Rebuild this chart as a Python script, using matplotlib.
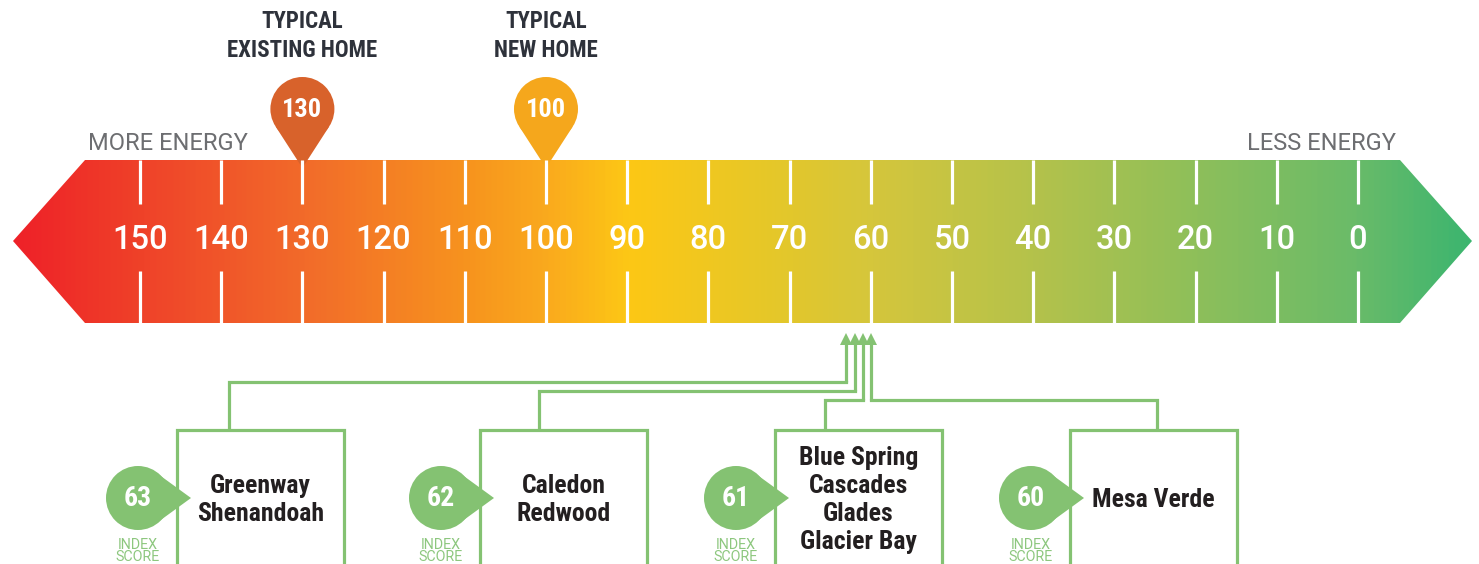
import numpy as np
import matplotlib
matplotlib.use("Agg")
import matplotlib.pyplot as plt
from matplotlib.patches import Polygon, Circle, Rectangle
from matplotlib.colors import LinearSegmentedColormap
from matplotlib import font_manager

# ---------------- data ----------------
scale_values = [150, 140, 130, 120, 110, 100, 90, 80, 70, 60, 50, 40, 30, 20, 10, 0]
pin_values = [130, 100]
pin_titles = ["TYPICAL\nEXISTING HOME", "TYPICAL\nNEW HOME"]
home_scores = [63, 62, 61, 60]
home_names = ["Greenway\nShenandoah", "Caledon\nRedwood",
              "Blue Spring\nCascades\nGlades\nGlacier Bay", "Mesa Verde"]
end_labels = ["MORE ENERGY", "LESS ENERGY"]
score_caption = "INDEX\nSCORE"

# ---------------- fonts ----------------
avail = {f.name for f in font_manager.fontManager.ttflist}
def pick(*names):
    for n in names:
        if n in avail:
            return n
    return "DejaVu Sans"
COND = pick("Liberation Sans Narrow", "Roboto Condensed", "Open Sans Condensed", "DejaVu Sans")
NUMF = pick("Roboto", "DejaVu Sans")
LIGHT = pick("Roboto", "Lato", "DejaVu Sans")

# ---------------- styles ----------------
W, H = 1479, 564
GREEN = "#84C272"
pin_colors = ["#D8622B", "#F5A71C"]
TITLE_C = "#2E323B"

fig = plt.figure(figsize=(W / 100, H / 100), dpi=100)
lay = fig.add_axes([0, 0, 1, 1])
lay.set_xlim(0, W)
lay.set_ylim(H, 0)
lay.axis("off")

# data axes: HERS value on x (reversed), pixels on y
ax = fig.add_axes([0, 0, 1, 1])
ax.set_xlim(167.24, -14.9)
ax.set_ylim(H, 0)
ax.axis("off")
ax.patch.set_alpha(0)

def to_px(v):
    p = ax.transData.transform((v, 0))
    return lay.transData.inverted().transform(p)[0]

# ---------------- band ----------------
band = [(13, 241), (85, 160), (1400, 160), (1472, 241), (1400, 323), (85, 323)]
poly = Polygon(band, closed=True, facecolor="none", edgecolor="none")
lay.add_patch(poly)
stops = [(0.0, "#EE2128"), (0.087, "#EF4229"), (0.199, "#F26B2A"), (0.312, "#F7941E"),
         (0.366, "#FAAA1D"), (0.423, "#FDC815"), (0.534, "#E2C72C"), (0.589, "#D5C63C"),
         (0.701, "#B4C24B"), (0.812, "#8EBF5A"), (0.922, "#6ABB69"), (1.0, "#3CB56F")]
cmap = LinearSegmentedColormap.from_list("hers", stops)
grad = np.linspace(0, 1, 1000)[None, :]
im = lay.imshow(grad, cmap=cmap, extent=(13, 1472, 323, 160), aspect="auto",
                interpolation="bilinear", zorder=1)
im.set_clip_path(poly)

# tick lines and numbers
ax.vlines(scale_values, 160, 204, color="white", lw=2.3, zorder=3)
ax.vlines(scale_values, 271, 323, color="white", lw=2.3, zorder=3)
for v in scale_values:
    ax.text(v, 240, str(v), ha="center", va="center", color="white",
            fontsize=23.5, family=NUMF, weight="medium", zorder=4)

lay.text(88, 143, end_labels[0], ha="left", va="center", color="#6D6E71",
         fontsize=17, family=LIGHT, weight="normal")
lay.text(1396, 143, end_labels[1], ha="right", va="center", color="#6D6E71",
         fontsize=17, family=LIGHT, weight="normal")

# ---------------- pins ----------------
for v, title, col in zip(pin_values, pin_titles, pin_colors):
    x = to_px(v)
    cy, r, tip = 109, 32, 168
    d = tip - cy
    ca = r / d
    sa = np.sqrt(1 - ca ** 2)
    pts = [(x - r * sa, cy + r * ca), (x, tip), (x + r * sa, cy + r * ca)]
    lay.add_patch(Polygon(pts, closed=True, facecolor=col, edgecolor="none", zorder=5))
    lay.add_patch(Circle((x, cy), r, facecolor=col, edgecolor="none", zorder=5))
    lay.text(x, cy + 1, str(v), ha="center", va="center", color="white",
             fontsize=19, family=COND, weight="bold", fontstretch="condensed", zorder=6)
    lay.text(x, 36, title, ha="center", va="center", color=TITLE_C, fontsize=16.5,
             family=COND, weight="bold", fontstretch="condensed", linespacing=1.3, zorder=6)

# ---------------- arrows, boxes, scores ----------------
box_left = [177, 480, 775, 1070]
box_w = 167
conn_x = [229, 539, 825, 1157]
turn_y = [382, 391, 400, 400]
box_top = 430
for s, name, bl, cx, ty in zip(home_scores, home_names, box_left, conn_x, turn_y):
    ax.plot([s, s], [340, ty], color=GREEN, lw=2.3, solid_capstyle="butt", zorder=3)
    ax.plot([s], [339], marker="^", ms=8.5, color=GREEN, mew=0, zorder=3)
    xs = to_px(s)
    lay.plot([xs, cx, cx], [ty, ty, box_top], color=GREEN, lw=2.3,
             solid_joinstyle="miter", zorder=3)
    lay.add_patch(Rectangle((bl, box_top), box_w, 200, facecolor="white",
                            edgecolor=GREEN, lw=2.3, zorder=3))
    lay.text(bl + box_w / 2, 500, name, ha="center", va="center", color="#231F20",
             fontsize=18.5, family=COND, weight="bold", fontstretch="condensed",
             linespacing=1.22, zorder=5)
    ccx, ccy, cr = bl - 39, 498, 32
    tipx = bl + 14
    lay.add_patch(Polygon([(ccx + 20, ccy - 24), (tipx, ccy), (ccx + 20, ccy + 24)],
                          closed=True, facecolor=GREEN, edgecolor="none", zorder=6))
    lay.add_patch(Circle((ccx, ccy), cr, facecolor=GREEN, edgecolor="none", zorder=6))
    lay.text(ccx, ccy + 1, str(s), ha="center", va="center", color="white",
             fontsize=20, family=COND, weight="bold", fontstretch="condensed", zorder=7)
    lay.text(ccx, 551, score_caption, ha="center", va="center", color="#8DC77E",
             fontsize=10.3, family=LIGHT, weight="normal", linespacing=0.9, zorder=7)

fig.savefig("out.png", dpi=100)
